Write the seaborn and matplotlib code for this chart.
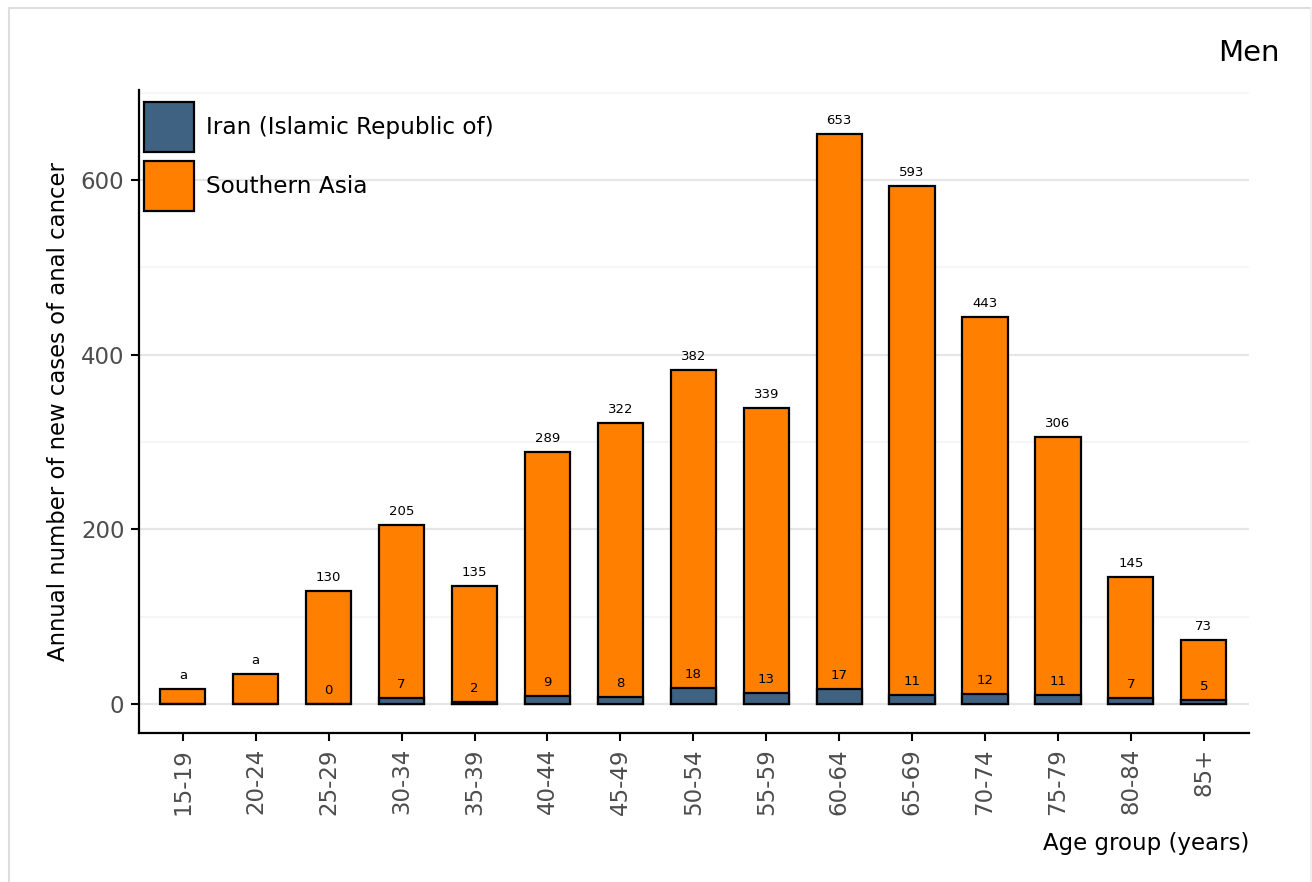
import numpy as np
import pandas as pd
import matplotlib
matplotlib.use("Agg")
import matplotlib.pyplot as plt
from matplotlib.lines import Line2D
from matplotlib.patches import Patch
from matplotlib.ticker import MultipleLocator
import seaborn as sns

# data
age_groups = ['15-19', '20-24', '25-29', '30-34', '35-39', '40-44', '45-49', '50-54',
              '55-59', '60-64', '65-69', '70-74', '75-79', '80-84', '85+']
southern_asia = [17, 35, 130, 205, 135, 289, 322, 382, 339, 653, 593, 443, 306, 145, 73]
iran = [0, 0, 0, 7, 2, 9, 8, 18, 13, 17, 11, 12, 11, 7, 5]
top_labels = ['a', 'a', '130', '205', '135', '289', '322', '382', '339', '653', '593',
              '443', '306', '145', '73']
iran_labels = ['', '', '0', '7', '2', '9', '8', '18', '13', '17', '11', '12', '11', '7', '5']

iran_color = '#3f6282'
sa_color = '#ff8000'

sns.set_style('white')
plt.rcParams['font.family'] = ['DejaVu Sans']

df = pd.DataFrame({'age': age_groups, 'sa': southern_asia, 'iran': iran})

fig = plt.figure(figsize=(13.12, 8.82), dpi=100)
ax = fig.add_axes([0.106, 0.169, 0.846, 0.729])

# Southern Asia bar behind, Iran bar in front
sns.barplot(data=df, x='age', y='sa', color=sa_color, saturation=1, width=0.62,
            edgecolor='black', linewidth=1.6, ax=ax, zorder=2)
sns.barplot(data=df, x='age', y='iran', color=iran_color, saturation=1, width=0.62,
            edgecolor='black', linewidth=1.6, ax=ax, zorder=3)

# value labels
for i in range(len(age_groups)):
    ax.annotate(top_labels[i], (i, southern_asia[i]), xytext=(0, 5), textcoords='offset points',
                ha='center', va='bottom', fontsize=9.5, color='black', zorder=5)
    if iran_labels[i]:
        ax.annotate(iran_labels[i], (i, iran[i]), xytext=(0, 5), textcoords='offset points',
                    ha='center', va='bottom', fontsize=9.5, color='black', zorder=5)

ax.set_xlim(-0.6, 14.62)
ax.set_ylim(-33, 703)
ax.yaxis.set_major_locator(MultipleLocator(200))
ax.yaxis.set_minor_locator(MultipleLocator(100))
ax.grid(axis='y', which='major', color='#e6e6e6', linewidth=1.6)
ax.grid(axis='y', which='minor', color='#f6f6f6', linewidth=1.6)
ax.set_axisbelow(True)

for side in ['top', 'right']:
    ax.spines[side].set_visible(False)
for side in ['left', 'bottom']:
    ax.spines[side].set_color('black')
    ax.spines[side].set_linewidth(1.6)

ax.tick_params(axis='both', which='major', direction='out', length=6, width=1.5,
               color='black', labelcolor='#4d4d4d', labelsize=16.5, left=True, bottom=True)
ax.tick_params(axis='x', which='major', pad=5)
ax.tick_params(axis='y', which='major', pad=4.5)
ax.tick_params(axis='y', which='minor', left=False)
plt.setp(ax.get_xticklabels(), rotation=90)

ax.set_ylabel('Annual number of new cases of anal cancer', fontsize=16.4, color='black', labelpad=8)
ax.set_xlabel('Age group (years)', fontsize=16.5, color='black', loc='right', labelpad=12)

handles = [Patch(facecolor=iran_color, edgecolor='black', linewidth=1.6),
           Patch(facecolor=sa_color, edgecolor='black', linewidth=1.6)]
ax.legend(handles, ['Iran (Islamic Republic of)', 'Southern Asia'], loc='upper left',
          bbox_to_anchor=(0.0045, 0.981), borderaxespad=0, borderpad=0, frameon=False,
          fontsize=16.7, handlelength=2.17, handleheight=2.93, labelspacing=0.4,
          handletextpad=0.48, labelcolor='black')

fig.text(0.975, 0.94, 'Men', ha='right', va='center', fontsize=21, color='black')

# light frame around the figure
fig.add_artist(Line2D([0.0072, 0.9992], [0.991, 0.991], transform=fig.transFigure,
                      color='#dedede', linewidth=1.5))
fig.add_artist(Line2D([0.0072, 0.0072], [0.0, 0.991], transform=fig.transFigure,
                      color='#dedede', linewidth=1.5))
fig.add_artist(Line2D([0.9992, 0.9992], [0.0, 0.991], transform=fig.transFigure,
                      color='#f0f0f0', linewidth=1.5))

fig.savefig('out.png', dpi=100)
